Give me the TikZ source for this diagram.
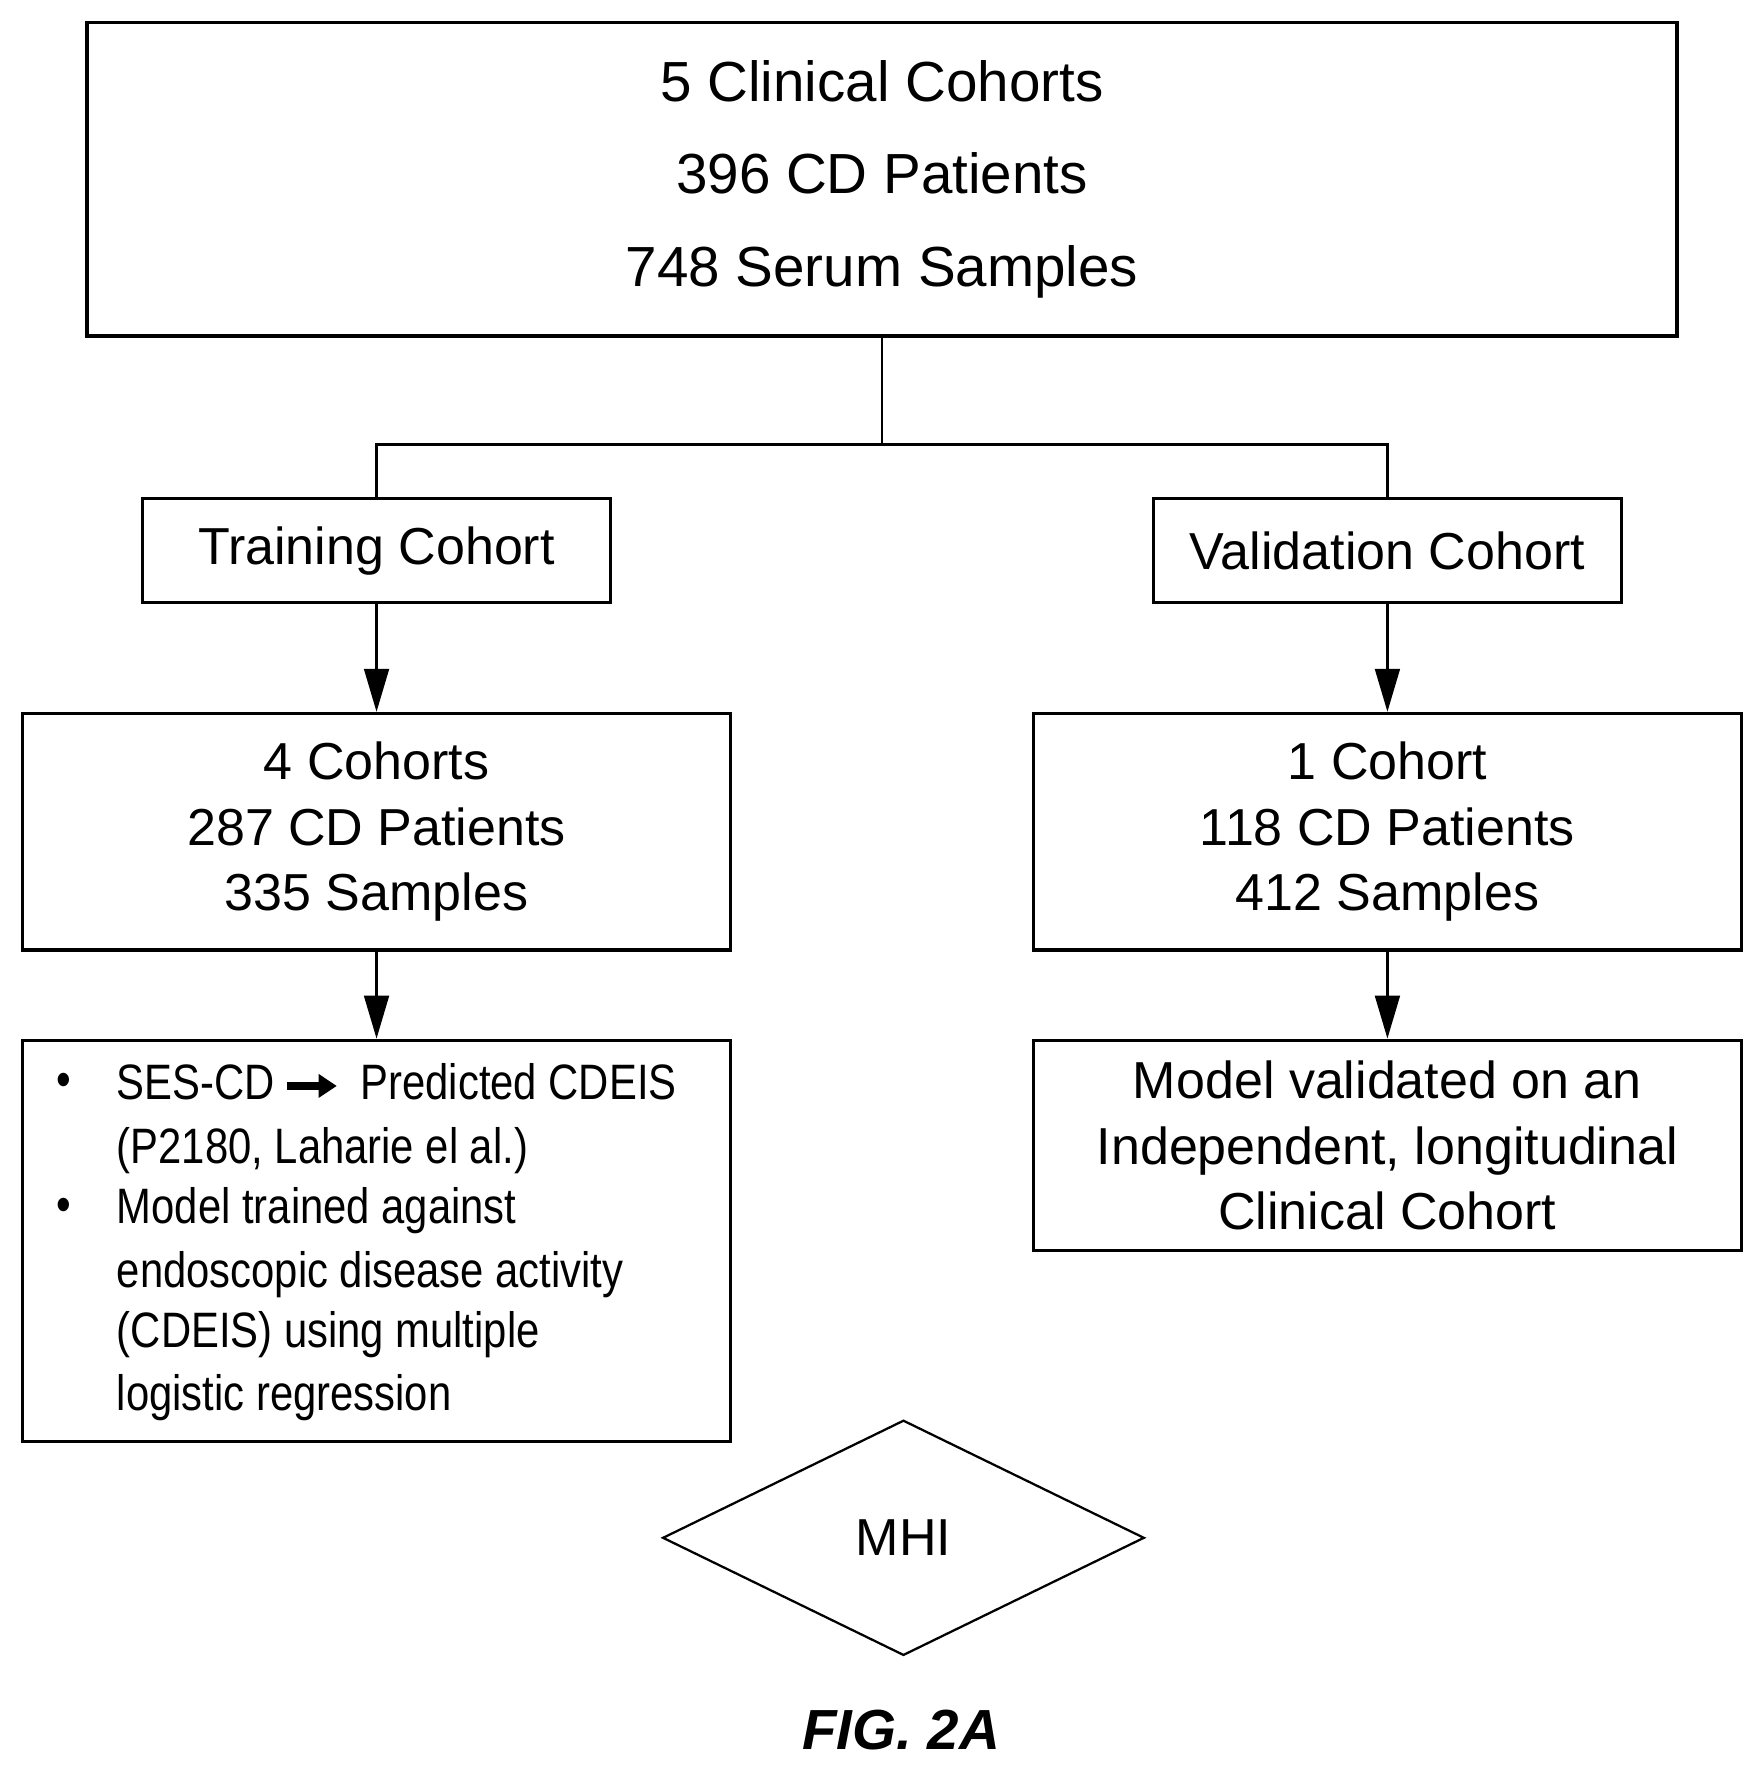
\documentclass[tikz,border=0pt]{standalone}
\usepackage{fontspec}
\setmainfont{Liberation Sans}
\newfontfamily\narrowfont[FakeStretch=0.84]{Liberation Sans}
\usetikzlibrary{arrows.meta,shapes.geometric}
\begin{document}
\begin{tikzpicture}[x=0.5pt,y=-0.5pt,
  box/.style={draw,line width=1.5pt,inner sep=0pt,align=center},
  link/.style={line width=1pt},
  arr/.style={line width=1pt,-{Triangle[length=19pt,width=11pt]}},
  big/.style={font=\fontsize{25}{41}\selectfont},
  mid/.style={font=\fontsize{23}{29}\selectfont},
  bul/.style={anchor=base west,inner sep=0pt,font=\narrowfont\fontsize{22}{27}\selectfont}]
\useasboundingbox (0,0) rectangle (1560,1568);
%\draw[help lines] (0,0) grid[step=100] (1560,1568);

% top
\node[box,big,minimum width=703pt,minimum height=138.5pt] (all) at (780,158.5)
  {5 Clinical Cohorts\\396 CD Patients\\748 Serum Samples};

% second row
\node[box,mid,minimum width=207pt,minimum height=46pt] (train) at (333,487) {Training Cohort};
\node[box,mid,minimum width=207pt,minimum height=46pt] (valid) at (1227,487) {Validation Cohort};

\coordinate (split) at (780,393);
\draw[link] (all.south) -- (split);
\draw[link] (train.north) |- (split) -| (valid.north);

% third row
\node[box,mid,minimum width=313pt,minimum height=104.5pt] (trainset) at (333,735.5)
  {4 Cohorts\\287 CD Patients\\335 Samples};
\node[box,mid,minimum width=313pt,minimum height=104.5pt] (validset) at (1227,735.5)
  {1 Cohort\\118 CD Patients\\412 Samples};

\draw[arr] (train.south) -- (trainset.north);
\draw[arr] (valid.south) -- (validset.north);

% fourth row
\node[box,minimum width=313pt,minimum height=177.5pt] (model) at (333,1097.5) {};
\node[box,mid,minimum width=313pt,minimum height=93pt] (check) at (1227,1013)
  {Model validated on an\\Independent, longitudinal\\Clinical Cohort};

\draw[arr] (trainset.south) -- (model.north);
\draw[arr] (validset.south) -- (check.north);

\node[bul] (b1) at (50,970) {\textbullet};
\node[bul] (b2) at (50,1080) {\textbullet};
\node[bul] (l1) at (103,972) {SES-CD\,\tikz[baseline=-0.5ex]\draw[line width=3.5pt,-{Triangle[length=8pt,width=10pt]}] (0,0)--(22pt,0);\, Predicted CDEIS};
\node[bul] (l2) at (103,1029) {(P2180, Laharie el al.)};
\node[bul] (l3) at (103,1082) {Model trained against};
\node[bul] (l4) at (103,1139) {endoscopic disease activity};
\node[bul] (l5) at (103,1192) {(CDEIS) using multiple};
\node[bul] (l6) at (103,1247) {logistic regression};

% index
\node[draw,diamond,line width=1pt,inner sep=0pt,minimum width=213pt,minimum height=104pt,
  font=\fontsize{23}{28}\selectfont] (mhi) at (799,1360) {MHI};

\node[font=\bfseries\itshape\fontsize{25}{30}\selectfont] (fig) at (797,1530) {FIG. 2A};
\end{tikzpicture}
\end{document}
